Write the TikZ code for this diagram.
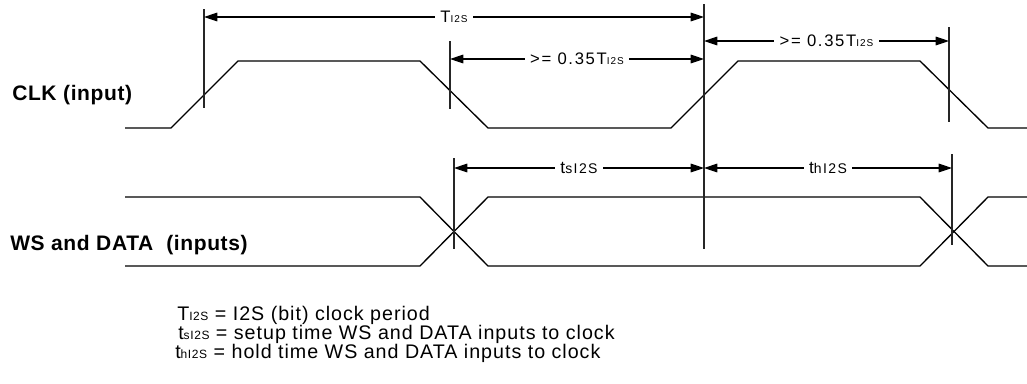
\documentclass[tikz,border=0pt]{standalone}
\usepackage{fontspec}
\setmainfont{Liberation Sans}
\newfontfamily\spacedfont[LetterSpace=10]{Liberation Sans}
\newfontfamily\legendfont[LetterSpace=5]{Liberation Sans}
\newfontfamily\signalfont[LetterSpace=3]{Liberation Sans}
\usetikzlibrary{arrows.meta}
\newcommand{\smalltxt}[1]{{\fontsize{7.5}{8}\selectfont #1}}
\newcommand{\legtxt}[1]{{\fontsize{9}{10}\selectfont #1}}

\begin{document}
\begin{tikzpicture}[x=0.75pt,y=-0.75pt]
	\tikzstyle{wave} = [line width=1pt, line join=miter]
	\tikzstyle{marker} = [line width=1pt, draw=black!85]
	\tikzstyle{dim} = [{Triangle[length=10pt,width=6.5pt]}-{Triangle[length=10pt,width=6.5pt]}, line width=0.8pt]
	\tikzstyle{lbl} = [fill=white, inner xsep=4pt, inner ysep=1pt, font=\spacedfont\fontsize{12.5}{14}\selectfont]
	\tikzstyle{signal} = [anchor=west, inner sep=0, font=\signalfont\bfseries\fontsize{15.75}{18}\selectfont]
	\tikzstyle{legend} = [anchor=base west, inner sep=0, font=\legendfont\fontsize{14.75}{16}\selectfont]

	\useasboundingbox (0,0) rectangle (1027,383);

	% signal names
	\node [signal] (clk) at (12,95) {CLK (input)};
	\node [signal] (ws) at (10,245) {WS and DATA\ \ (inputs)};

	% waveforms
	\draw [wave] (125,128) -- (171,128) -- (238,61) -- (420,61) -- (488,128) -- (671,128) -- (738,61) -- (920,61) -- (988,128) -- (1027,128);
	\draw [wave] (125,197) -- (420,197) -- (488,266) -- (920,266) -- (988,197) -- (1027,197);
	\draw [wave] (125,266) -- (420,266) -- (488,197) -- (920,197) -- (988,266) -- (1027,266);

	% markers
	\coordinate (m1t) at (204,9);   \coordinate (m1b) at (204,108);
	\coordinate (m2t) at (450,41);  \coordinate (m2b) at (450,109);
	\coordinate (m3t) at (704,4);   \coordinate (m3b) at (704,249);
	\coordinate (m4t) at (949,27);  \coordinate (m4b) at (949,122);
	\coordinate (m5t) at (454,158); \coordinate (m5b) at (454,249);
	\coordinate (m6t) at (952,154); \coordinate (m6b) at (952,245);
	\draw [marker] (m1t) -- (m1b);
	\draw [marker] (m2t) -- (m2b);
	\draw [marker] (m3t) -- (m3b);
	\draw [marker] (m4t) -- (m4b);
	\draw [marker] (m5t) -- (m5b);
	\draw [marker] (m6t) -- (m6b);

	% dimensions
	\coordinate (p1) at (204,17);  \coordinate (p2) at (704,17);
	\coordinate (q1) at (450,59);  \coordinate (q2) at (704,59);
	\coordinate (r1) at (704,41);  \coordinate (r2) at (949,41);
	\coordinate (s1) at (454,168); \coordinate (s2) at (704,168);
	\coordinate (h1) at (704,168); \coordinate (h2) at (952,168);
	\draw (p1) edge [dim] node[lbl] {T\smalltxt{I2S}} (p2);
	\draw (q1) edge [dim] node[lbl] {>= 0.35T\smalltxt{I2S}} (q2);
	\draw (r1) edge [dim] node[lbl] {>= 0.35T\smalltxt{I2S}} (r2);
	\draw (s1) edge [dim] node[lbl, font=\spacedfont\fontsize{13}{15}\selectfont] {t{\fontsize{10.5}{12}\selectfont sI2S}} (s2);
	\draw (h1) edge [dim] node[lbl, font=\spacedfont\fontsize{13}{15}\selectfont] {t{\fontsize{10.5}{12}\selectfont hI2S}} (h2);

	% legend
	\node [legend] (leg1) at (177,320) {T\legtxt{I2S} = I2S (bit) clock period};
	\node [legend] (leg2) at (178,339.5) {t\legtxt{sI2S} = setup time WS and DATA inputs to clock};
	\node [legend] (leg3) at (175,358.5) {t\legtxt{hI2S} = hold time WS and DATA inputs to clock};
\end{tikzpicture}
\end{document}
